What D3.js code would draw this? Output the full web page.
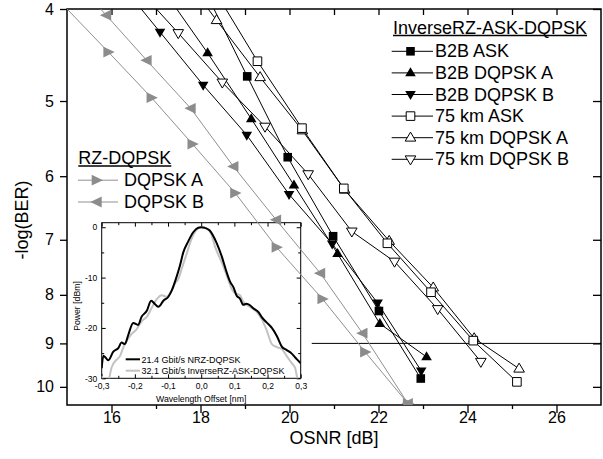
<!DOCTYPE html>
<html>
<head>
<meta charset="utf-8">
<script src="https://cdn.jsdelivr.net/npm/d3@7"></script>
<style>
  body { margin: 0; background: #fff; }
  svg { display: block; font-family: "Liberation Sans", Arial, sans-serif; }
</style>
</head>
<body>
<script>

// ---- main chart data: OSNR [dB] and -log(BER) per curve ----
// (first point of each curve lies above the plot top, the line enters from there)
var b2bAskOsnr = [18.14, 19.05, 19.96, 20.98, 22.01, 22.95];
var b2bAskBer  = [3.86, 4.71, 5.73, 6.94, 8.32, 9.80];

var b2bDqpskAOsnr = [17.13, 18.16, 19.14, 20.10, 21.08, 22.03, 23.08];
var b2bDqpskABer  = [3.80, 4.45, 5.22, 6.13, 7.24, 8.58, 9.30];

var b2bDqpskBOsnr = [16.12, 17.09, 18.06, 19.04, 19.99, 20.96, 21.98, 22.96];
var b2bDqpskBBer  = [3.72, 4.23, 4.81, 5.43, 6.27, 7.07, 8.16, 9.62];

var km75AskOsnr = [18.31, 19.28, 20.28, 21.22, 22.20, 23.18, 24.13, 25.11];
var km75AskBer  = [3.82, 4.54, 5.34, 6.18, 7.06, 7.95, 8.94, 9.88];

var km75DqpskAOsnr = [17.40, 18.36, 19.34, 20.29, 21.24, 22.24, 23.23, 24.15, 25.16];
var km75DqpskABer  = [3.58, 4.11, 4.72, 5.37, 6.20, 7.02, 7.86, 8.89, 9.57];

var km75DqpskBOsnr = [16.51, 17.50, 18.49, 19.45, 20.42, 21.40, 22.36, 23.33, 24.30];
var km75DqpskBBer  = [3.77, 4.24, 4.78, 5.32, 5.97, 6.86, 7.38, 8.28, 9.41];

var rzAOsnr = [14.73, 15.93, 16.90, 17.82, 18.78, 19.71, 20.74, 21.70, 22.66];
var rzABer  = [3.88, 4.44, 4.96, 5.55, 6.25, 7.13, 8.08, 9.19, 10.41];

var rzBOsnr = [14.96, 15.88, 16.79, 17.78, 18.74, 19.70, 20.69, 21.64, 22.66];
var rzBBer  = [3.64, 4.06, 4.53, 5.09, 5.86, 6.67, 7.59, 8.78, 10.41];

var fecLevel = 9;
var fecStart = 20.5;

var xMajorTicks = [16, 18, 20, 22, 24, 26];
var xMinorTicks = [17, 19, 21, 23, 25];
var xTopTicks = [16, 17, 18, 19, 20, 21, 22, 23, 24, 25, 26];
var yTicks = [4, 5, 6, 7, 8, 9, 10];

// ---- inset: optical spectra ----
var nrzOffset = [-0.300, -0.295, -0.280, -0.265, -0.250, -0.240, -0.230, -0.220, -0.205, -0.190,
                 -0.180, -0.164, -0.151, -0.139, -0.129, -0.114, -0.099, -0.089, -0.074, -0.064,
                 -0.054, -0.039, -0.024, -0.009, 0.000, 0.010, 0.025, 0.047, 0.062, 0.077,
                 0.087, 0.097, 0.107, 0.117, 0.127, 0.137, 0.147, 0.157, 0.172, 0.182,
                 0.197, 0.213, 0.228, 0.243, 0.258, 0.273, 0.288, 0.300];
var nrzPower  = [-28.0, -25.5, -26.4, -24.7, -24.0, -22.9, -23.2, -21.4, -19.0, -19.4,
                 -17.8, -16.6, -14.6, -15.3, -15.8, -14.6, -13.8, -12.6, -9.8, -7.6,
                 -5.0, -2.8, -1.0, -0.1, 0.0, -0.1, -0.6, -3.2, -5.8, -9.0,
                 -10.8, -11.9, -13.6, -14.2, -15.4, -15.2, -15.5, -16.1, -16.8, -17.8,
                 -18.9, -20.0, -21.6, -23.7, -24.4, -25.1, -26.2, -27.0];

var invOffset = [-0.300, -0.290, -0.280, -0.270, -0.255, -0.245, -0.235, -0.225, -0.210, -0.194,
                 -0.185, -0.175, -0.164, -0.149, -0.134, -0.119, -0.104, -0.089, -0.079, -0.069,
                 -0.059, -0.044, -0.029, -0.014, 0.000, 0.015, 0.030, 0.042, 0.062, 0.082,
                 0.092, 0.102, 0.117, 0.127, 0.147, 0.167, 0.182, 0.197, 0.213, 0.228,
                 0.243, 0.258, 0.273, 0.283, 0.290, 0.295];
var invPower  = [-29.5, -31.0, -30.5, -27.8, -26.3, -25.6, -23.9, -22.6, -21.2, -20.2,
                 -19.2, -18.4, -17.8, -16.0, -14.3, -13.5, -13.8, -12.5, -11.1, -10.3,
                 -8.3, -5.3, -2.3, -0.5, 0.0, -0.2, -1.3, -3.9, -7.0, -10.5,
                 -12.3, -13.1, -13.5, -14.8, -15.8, -16.8, -18.2, -20.4, -23.2, -23.8,
                 -24.2, -25.6, -27.0, -27.9, -30.0, -31.0];

var insetXTicks = [-0.3, -0.2, -0.1, 0, 0.1, 0.2, 0.3];
var insetXMinor = [-0.25, -0.15, -0.05, 0.05, 0.15, 0.25];
var insetYTicks = [0, -10, -20, -30];
var insetYMinor = [-5, -15, -25];

var black = "#000";
var gray = "#8c8c8c";
var grayLine = "#909090";

var width = 603, height = 459;

var svg = d3.select("body").append("svg")
            .attr("width", width)
            .attr("height", height);

// scales (y axis is logarithmic in -log(BER))
var x = d3.scaleLinear().domain([15, 27]).range([67, 601]);
var y = d3.scaleLog().domain([4, 10.45]).range([9, 405]);

// ---------------- inset (drawn first, it is transparent) ----------------
var ix = d3.scaleLinear().domain([-0.3, 0.3]).range([101.7, 300.7]);
var iy = d3.scaleLinear().domain([-30, 0.9]).range([378.3, 222.7]);

svg.append("clipPath").attr("id", "insetClip")
   .append("rect")
   .attr("x", ix.range()[0]).attr("y", iy.range()[1])
   .attr("width", ix.range()[1] - ix.range()[0])
   .attr("height", iy.range()[0] - iy.range()[1]);

function commaFormat(d) {
  return d.toFixed(1).replace(".", ",");
}

function styleAxis(g, fontSize) {
  g.select(".domain").remove();
  g.selectAll("line").attr("stroke", black).attr("stroke-width", 1);
  g.selectAll("text").attr("fill", black).attr("font-size", fontSize)
   .attr("font-family", "Liberation Sans, Arial, sans-serif");
}

var insetBottom = iy.range()[0], insetTop = iy.range()[1];
var insetLeft = ix.range()[0], insetRight = ix.range()[1];

svg.append("g").attr("transform", "translate(0," + insetBottom + ")")
   .call(d3.axisBottom(ix).tickValues(insetXTicks).tickSize(-4).tickPadding(5).tickFormat(commaFormat))
   .call(styleAxis, 8.5);
svg.append("g").attr("transform", "translate(0," + insetBottom + ")")
   .call(d3.axisBottom(ix).tickValues(insetXMinor).tickSize(-2.5).tickFormat(""))
   .call(styleAxis, 8.5);
svg.append("g").attr("transform", "translate(0," + insetTop + ")")
   .call(d3.axisTop(ix).tickValues(insetXTicks).tickSize(-4).tickFormat(""))
   .call(styleAxis, 8.5);
svg.append("g").attr("transform", "translate(0," + insetTop + ")")
   .call(d3.axisTop(ix).tickValues(insetXMinor).tickSize(-2.5).tickFormat(""))
   .call(styleAxis, 8.5);
svg.append("g").attr("transform", "translate(" + insetLeft + ",0)")
   .call(d3.axisLeft(iy).tickValues(insetYTicks).tickSize(-4).tickPadding(4.5).tickFormat(function(d) { return String(d); }))
   .call(styleAxis, 8.5);
svg.append("g").attr("transform", "translate(" + insetLeft + ",0)")
   .call(d3.axisLeft(iy).tickValues(insetYMinor).tickSize(-2.5).tickFormat(""))
   .call(styleAxis, 8.5);
svg.append("g").attr("transform", "translate(" + insetRight + ",0)")
   .call(d3.axisRight(iy).tickValues(insetYTicks).tickSize(-4).tickFormat(""))
   .call(styleAxis, 8.5);
svg.append("g").attr("transform", "translate(" + insetRight + ",0)")
   .call(d3.axisRight(iy).tickValues(insetYMinor).tickSize(-2.5).tickFormat(""))
   .call(styleAxis, 8.5);

svg.append("rect")
   .attr("x", insetLeft).attr("y", insetTop)
   .attr("width", insetRight - insetLeft).attr("height", insetBottom - insetTop)
   .attr("fill", "none").attr("stroke", black).attr("stroke-width", 1);

var spectrumLine = d3.line()
                     .x(function(d) { return ix(d[0]); })
                     .y(function(d) { return iy(d[1]); })
                     .curve(d3.curveMonotoneX);

var invData = invOffset.map(function(v, i) { return [v, invPower[i]]; });
var nrzData = nrzOffset.map(function(v, i) { return [v, nrzPower[i]]; });

svg.append("path")
   .attr("clip-path", "url(#insetClip)")
   .attr("d", spectrumLine(invData))
   .attr("fill", "none").attr("stroke", "#c2c2c2").attr("stroke-width", 2);
svg.append("path")
   .attr("clip-path", "url(#insetClip)")
   .attr("d", spectrumLine(nrzData))
   .attr("fill", "none").attr("stroke", black).attr("stroke-width", 2);

// inset axis titles
svg.append("text")
   .attr("x", (insetLeft + insetRight) / 2)
   .attr("y", 401.5)
   .attr("text-anchor", "middle")
   .attr("font-size", 8.7)
   .text("Wavelength Offset [nm]");
svg.append("text")
   .attr("transform", "translate(79.5," + 306 + ") rotate(-90)")
   .attr("text-anchor", "middle")
   .attr("font-size", 8.7)
   .text("Power [dBm]");

// inset legend
var insetLegend = [
  {label: "21.4 Gbit/s NRZ-DQPSK", color: black, y: 359.3},
  {label: "32.1 Gbit/s InverseRZ-ASK-DQPSK", color: "#c2c2c2", y: 370.7}
];
insetLegend.forEach(function(d) {
  svg.append("line")
     .attr("x1", 125.7).attr("x2", 140)
     .attr("y1", d.y).attr("y2", d.y)
     .attr("stroke", d.color).attr("stroke-width", 2);
  svg.append("text")
     .attr("x", 141.5).attr("y", d.y + 3.2)
     .attr("font-size", 9)
     .text(d.label);
});

// ---------------- main axes ----------------
function styleMain(g, fontSize) {
  g.select(".domain").remove();
  g.selectAll("line").attr("stroke", black).attr("stroke-width", 1.3);
  g.selectAll("text").attr("fill", black).attr("font-size", fontSize)
   .attr("font-family", "Liberation Sans, Arial, sans-serif");
}

var plotLeft = x.range()[0], plotRight = x.range()[1];
var plotTop = y.range()[0], plotBottom = y.range()[1];

var xAxis = svg.append("g").attr("transform", "translate(0," + plotBottom + ")")
   .call(d3.axisBottom(x).tickValues(xMajorTicks).tickSize(8).tickFormat(d3.format("d")))
   .call(styleMain, 16);
xAxis.selectAll("text").attr("y", 18).attr("dy", null);

svg.append("g").attr("transform", "translate(0," + plotBottom + ")")
   .call(d3.axisBottom(x).tickValues(xMinorTicks).tickSize(4).tickFormat(""))
   .call(styleMain, 16);

svg.append("g").attr("transform", "translate(0," + plotTop + ")")
   .call(d3.axisTop(x).tickValues(xTopTicks).tickSize(-6).tickFormat(""))
   .call(styleMain, 16);

svg.append("g").attr("transform", "translate(" + plotLeft + ",0)")
   .call(d3.axisLeft(y).tickValues(yTicks).tickSize(7).tickPadding(6).tickFormat(d3.format("d")))
   .call(styleMain, 16);

svg.append("g").attr("transform", "translate(" + plotRight + ",0)")
   .call(d3.axisRight(y).tickValues(yTicks).tickSize(-8).tickFormat(""))
   .call(styleMain, 16);

svg.append("rect")
   .attr("x", plotLeft).attr("y", plotTop)
   .attr("width", plotRight - plotLeft).attr("height", plotBottom - plotTop)
   .attr("fill", "none").attr("stroke", black).attr("stroke-width", 1.5);

// axis titles
svg.append("text")
   .attr("x", (plotLeft + plotRight) / 2)
   .attr("y", 444)
   .attr("text-anchor", "middle")
   .attr("font-size", 18)
   .text("OSNR [dB]");
svg.append("text")
   .attr("transform", "translate(28,220) rotate(-90)")
   .attr("text-anchor", "middle")
   .attr("font-size", 18)
   .text("-log(BER)");

// ---------------- data ----------------
svg.append("clipPath").attr("id", "plotClip")
   .append("rect")
   .attr("x", plotLeft).attr("y", plotTop)
   .attr("width", plotRight - plotLeft).attr("height", plotBottom - plotTop);

// FEC limit line
svg.append("line")
   .attr("x1", x(fecStart)).attr("x2", x(27))
   .attr("y1", y(fecLevel)).attr("y2", y(fecLevel))
   .attr("stroke", black).attr("stroke-width", 1);

function markerPath(shape) {
  if (shape == "square") {
    return "M-4.3,-4.3H4.3V4.3H-4.3Z";
  } else if (shape == "up") {
    return "M0,-5.6L5.3,3.4L-5.3,3.4Z";
  } else if (shape == "down") {
    return "M0,5.6L5.3,-3.4L-5.3,-3.4Z";
  } else if (shape == "right") {
    return "M6.3,0L-5,-5.4L-5,5.4Z";
  } else {
    return "M-6.3,0L5,-5.4L5,5.4Z";
  }
}

// drawing order matters where markers overlap
var series = [
  {osnr: rzBOsnr, ber: rzBBer, shape: "left", fill: gray, stroke: "none", line: grayLine},
  {osnr: rzAOsnr, ber: rzABer, shape: "right", fill: gray, stroke: "none", line: grayLine},
  {osnr: km75DqpskBOsnr, ber: km75DqpskBBer, shape: "down", fill: "#fff", stroke: black, line: black},
  {osnr: km75DqpskAOsnr, ber: km75DqpskABer, shape: "up", fill: "#fff", stroke: black, line: black},
  {osnr: km75AskOsnr, ber: km75AskBer, shape: "square", fill: "#fff", stroke: black, line: black},
  {osnr: b2bDqpskBOsnr, ber: b2bDqpskBBer, shape: "down", fill: black, stroke: "none", line: black},
  {osnr: b2bDqpskAOsnr, ber: b2bDqpskABer, shape: "up", fill: black, stroke: "none", line: black},
  {osnr: b2bAskOsnr, ber: b2bAskBer, shape: "square", fill: black, stroke: "none", line: black}
];

var dataLayer = svg.append("g").attr("clip-path", "url(#plotClip)");

var berLine = d3.line()
                .x(function(d) { return x(d[0]); })
                .y(function(d) { return y(d[1]); });

series.forEach(function(s) {
  var pts = s.osnr.map(function(v, i) { return [v, s.ber[i]]; });
  dataLayer.append("path")
           .attr("d", berLine(pts))
           .attr("fill", "none")
           .attr("stroke", s.line)
           .attr("stroke-width", 1);
});

series.forEach(function(s) {
  var pts = s.osnr.map(function(v, i) { return [v, s.ber[i]]; });
  dataLayer.selectAll(null)
           .data(pts)
           .enter()
           .append("path")
           .attr("transform", function(d) { return "translate(" + x(d[0]) + "," + y(d[1]) + ")"; })
           .attr("d", markerPath(s.shape))
           .attr("fill", s.fill)
           .attr("stroke", s.stroke)
           .attr("stroke-width", 1);
});

// ---------------- legends ----------------
function legendTitle(text, xPos, baseline) {
  var t = svg.append("text")
             .attr("x", xPos).attr("y", baseline)
             .attr("font-size", 18)
             .text(text);
  var w = t.node().getComputedTextLength();
  svg.append("line")
     .attr("x1", xPos).attr("x2", xPos + w)
     .attr("y1", baseline + 2).attr("y2", baseline + 2)
     .attr("stroke", black).attr("stroke-width", 1.5);
}

function legendRow(item, lineX1, lineX2, markX, textX, baseline) {
  var cy = baseline - 6;
  svg.append("line")
     .attr("x1", lineX1).attr("x2", lineX2)
     .attr("y1", cy).attr("y2", cy)
     .attr("stroke", item.line).attr("stroke-width", 1);
  svg.append("path")
     .attr("transform", "translate(" + markX + "," + cy + ")")
     .attr("d", markerPath(item.shape))
     .attr("fill", item.fill)
     .attr("stroke", item.stroke)
     .attr("stroke-width", 1);
  svg.append("text")
     .attr("x", textX).attr("y", baseline)
     .attr("font-size", 18)
     .text(item.label);
}

var rightLegend = [
  {label: "B2B ASK", shape: "square", fill: black, stroke: "none", line: black},
  {label: "B2B DQPSK A", shape: "up", fill: black, stroke: "none", line: black},
  {label: "B2B DQPSK B", shape: "down", fill: black, stroke: "none", line: black},
  {label: "75 km ASK", shape: "square", fill: "#fff", stroke: black, line: black},
  {label: "75 km DQPSK A", shape: "up", fill: "#fff", stroke: black, line: black},
  {label: "75 km DQPSK B", shape: "down", fill: "#fff", stroke: black, line: black}
];

legendTitle("InverseRZ-ASK-DQPSK", 393, 33.5);
rightLegend.forEach(function(d, i) {
  legendRow(d, 391.7, 433, 410.5, 435, 57.3 + i * 21.6);
});

var leftLegend = [
  {label: "DQPSK A", shape: "right", fill: gray, stroke: "none", line: grayLine},
  {label: "DQPSK B", shape: "left", fill: gray, stroke: "none", line: grayLine}
];

legendTitle("RZ-DQPSK", 78.3, 164);
leftLegend.forEach(function(d, i) {
  legendRow(d, 78, 118, 96.7, 124, 186.2 + i * 21.8);
});

</script>
</body>
</html>
